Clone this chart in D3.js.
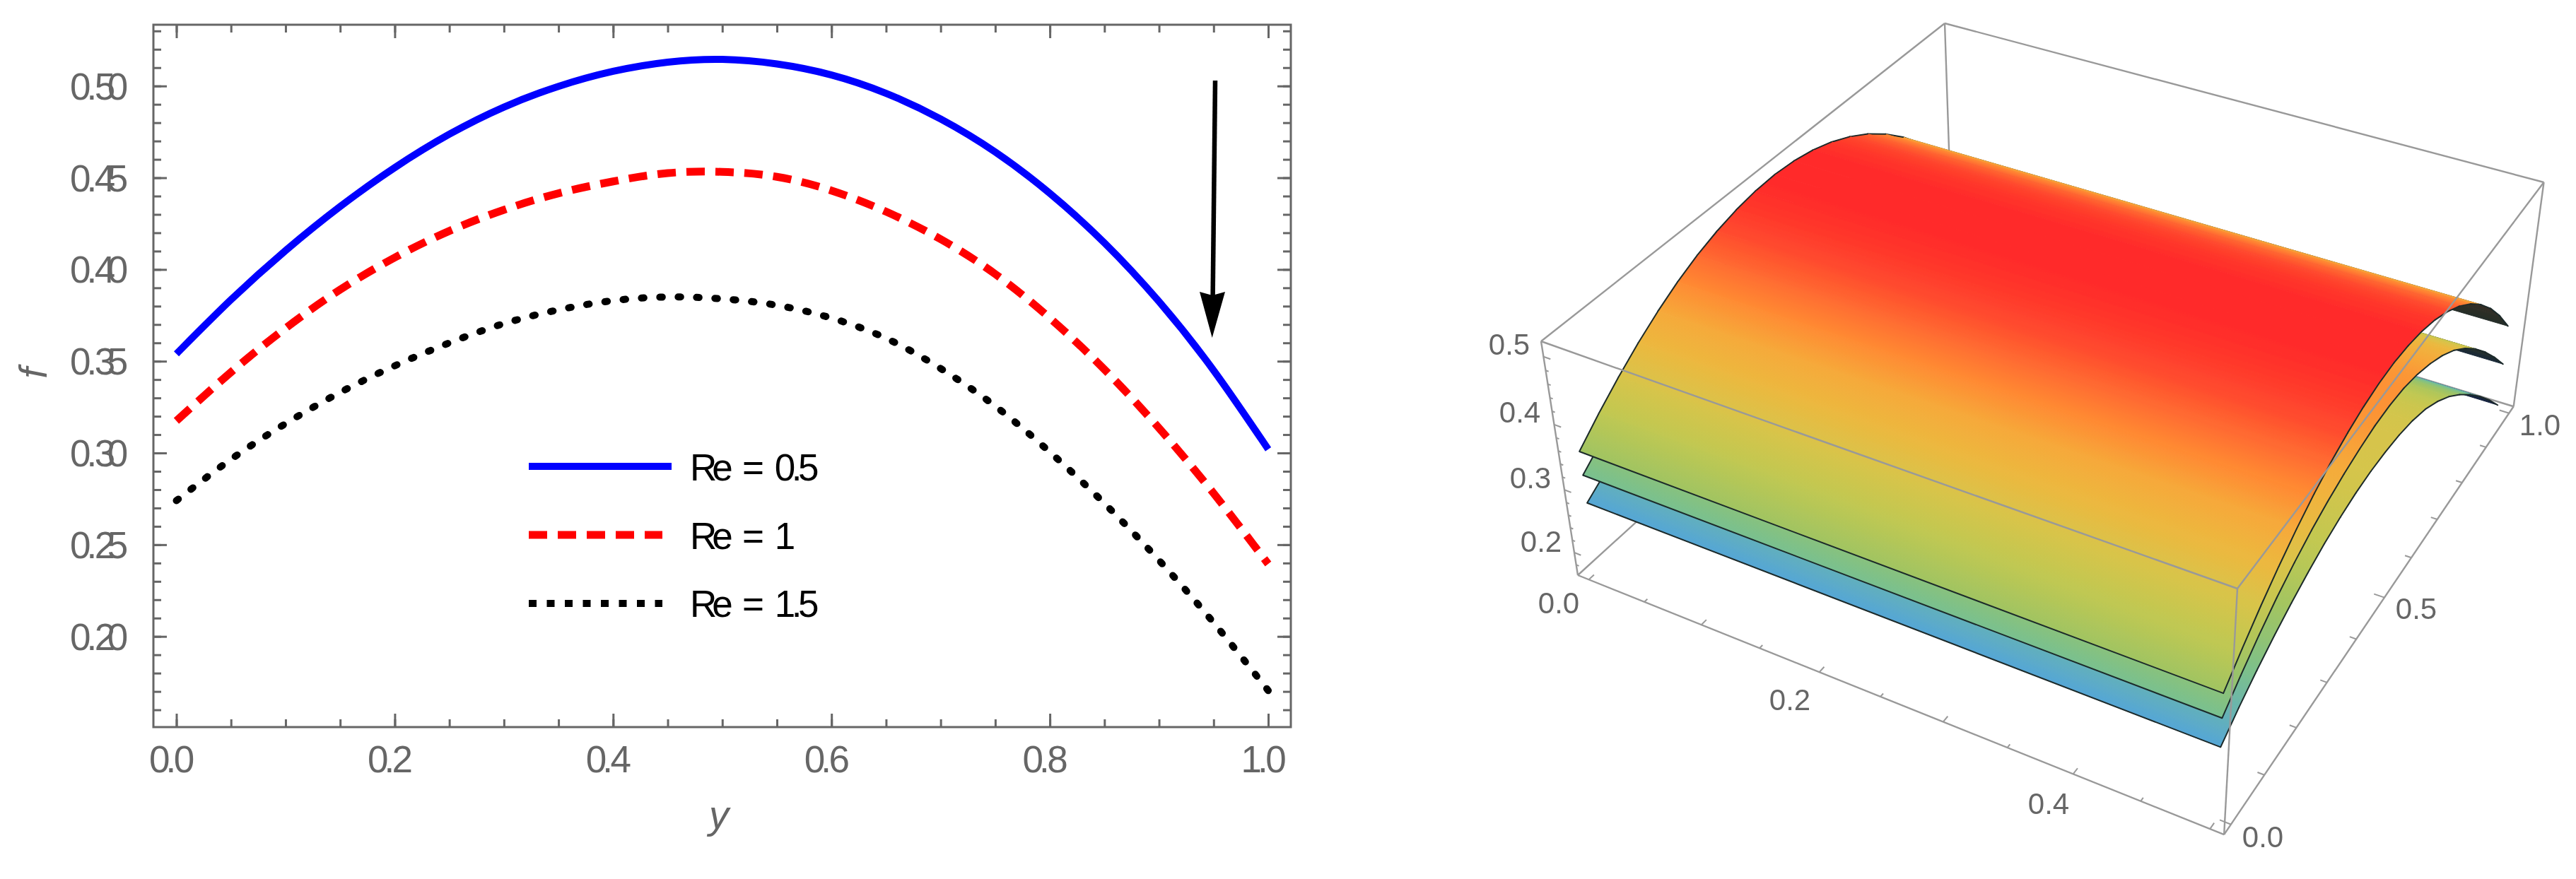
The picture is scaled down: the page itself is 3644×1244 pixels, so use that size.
<!DOCTYPE html>
<html>
<head>
<meta charset="utf-8">
<script src="https://cdnjs.cloudflare.com/ajax/libs/d3/7.8.5/d3.min.js"></script>
<style>
  html, body { margin: 0; background: #fff; }
  text { font-family: "Liberation Sans", Arial, sans-serif; }
</style>
</head>
<body>
<svg id="chart" width="3644" height="1244"></svg>
<script>
// values
var yValues = [0, .05, .1, .15, .2, .25, .3, .35, .4, .45, .5, .55, .6, .65, .7, .75, .8, .85, .9, .95, 1];
var fRe05 = [.354, .3835, .4103, .4343, .4555, .4737, .4885, .4998, .508, .513, .5145, .512, .506, .496, .482, .464, .4415, .4145, .3825, .345, .302];
var fRe1 = [.3175, .344, .368, .389, .4065, .421, .4325, .4415, .448, .4525, .4532, .4505, .443, .4315, .4165, .3975, .3735, .3455, .3135, .278, .2395];
var fRe15 = [.274, .2965, .316, .333, .3475, .36, .3705, .378, .383, .385, .384, .3805, .3735, .3625, .346, .3255, .3005, .2725, .2415, .2075, .1705];
var legendLabels = ["Re = 0.5", "Re = 1", "Re = 1.5"];
var xMajor = [0, .2, .4, .6, .8, 1];
var xMinor = d3.range(0, 1.001, .05);
var fMajor = [.2, .25, .3, .35, .4, .45, .5];
var fMinor = d3.range(.16, .531, .01);

// 3d panel
var axis3dX = [0, .05, .1, .15, .2, .25, .3, .35, .4, .45, .5];
var axis3dY = [0, .1, .2, .3, .4, .5, .6, .7, .8, .9, 1];
var axis3dZ = [.18, .2, .22, .24, .26, .28, .3, .32, .34, .36, .38, .4, .42, .44, .46, .48, .5];
// colour key is height plus a small lean along y, the source is lit off centre
var colorLean = .06;
var colorStops = [.17, .274, .3175, .354, .3865, .4163, .4433, .4675, .4887, .5065, .5208, .532, .54, .5445];
var colorValues = ["#3f6fb8", "#55a6d6", "#78c090", "#a0c462", "#c0c852", "#d8c44a", "#ecb83f", "#f6a93a", "#ff8a33", "#ff6a30", "#ff4c2e", "#ff3a2c", "#ff2e2a", "#ff2a2a"];

var svg = d3.select("#chart");
var gray = "#666";

// ---------- left plot ----------
var x = d3.scaleLinear().domain([0, 1]).range([249.5, 1794]);
var y = d3.scaleLinear().domain([.2, .5]).range([900.7, 121.7]);
var frame = { left: 217, right: 1826, top: 35, bottom: 1029 };

var left = svg.append("g");

function tickAxis(gen, tr, values, size) {
    var g = left.append("g").attr("transform", tr)
        .call(gen.tickValues(values).tickSize(size).tickFormat("").tickSizeOuter(0));
    g.select(".domain").remove();
    g.selectAll(".tick line").attr("stroke", gray).attr("stroke-width", 3);
    return g;
}
// ticks point inward on all four sides
tickAxis(d3.axisTop(x), `translate(0,${frame.bottom})`, xMinor, 11);
tickAxis(d3.axisTop(x), `translate(0,${frame.bottom})`, xMajor, 19);
tickAxis(d3.axisBottom(x), `translate(0,${frame.top})`, xMinor, 11);
tickAxis(d3.axisBottom(x), `translate(0,${frame.top})`, xMajor, 19);
tickAxis(d3.axisRight(y), `translate(${frame.left},0)`, fMinor, 11);
tickAxis(d3.axisRight(y), `translate(${frame.left},0)`, fMajor, 19);
tickAxis(d3.axisLeft(y), `translate(${frame.right},0)`, fMinor, 11);
tickAxis(d3.axisLeft(y), `translate(${frame.right},0)`, fMajor, 19);

left.append("rect")
    .attr("x", frame.left).attr("y", frame.top)
    .attr("width", frame.right - frame.left).attr("height", frame.bottom - frame.top)
    .attr("fill", "none").attr("stroke", gray).attr("stroke-width", 3);

// the source squeezes its digits unevenly, so kerning is per glyph
xMajor.forEach(function (v) {
    left.append("text").attr("x", x(v) - 38.5).attr("y", 1093)
        .attr("font-size", 53).attr("dx", "0 -6 -3.5")
        .attr("fill", gray).text(v.toFixed(1));
});
fMajor.forEach(function (v) {
    left.append("text").attr("x", 99).attr("y", y(v) + 19)
        .attr("font-size", 53).attr("dx", "0 -6 -3.5 -11.5")
        .attr("fill", gray).text(v.toFixed(2));
});
left.append("text").attr("x", 1017).attr("y", 1172)
    .attr("text-anchor", "middle").attr("font-size", 56).attr("font-style", "italic")
    .attr("fill", gray).text("y");
left.append("text").attr("transform", "translate(66,528) rotate(-90)")
    .attr("text-anchor", "middle").attr("font-size", 56).attr("font-style", "italic")
    .attr("fill", gray).text("f");

var line = d3.line()
    .x((d, i) => x(yValues[i]))
    .y(d => y(d))
    .curve(d3.curveNatural);

var series = [
    { v: fRe05, color: "#0000ff", width: 10, dash: null, cap: "butt", legendDash: null },
    { v: fRe1, color: "#ff0000", width: 11, dash: "26 15", cap: "butt", legendDash: "26 15" },
    { v: fRe15, color: "#000", width: 10, dash: "3.5 22.5", cap: "round", legendDash: "11 14.5" }
];
series.forEach(function (s) {
    left.append("path")
        .attr("d", line(s.v))
        .attr("fill", "none")
        .attr("stroke", s.color)
        .attr("stroke-width", s.width)
        .attr("stroke-linecap", s.cap)
        .attr("stroke-dasharray", s.dash);
});

// legend
var legendY = [660, 757, 854];
var legendEnd = [950, 937, 937];
var legendBase = [680, 777, 873];
series.forEach(function (s, i) {
    left.append("line")
        .attr("x1", 748).attr("x2", legendEnd[i])
        .attr("y1", legendY[i]).attr("y2", legendY[i])
        .attr("stroke", s.color).attr("stroke-width", s.width)
        .attr("stroke-dasharray", s.legendDash);
    left.append("text").attr("x", 976).attr("y", legendBase[i])
        .attr("font-size", 53).attr("dx", "0 -7 0 -1.5 0 0 -5.5 -5.5")
        .attr("fill", "#000").text(legendLabels[i]);
});

// arrow
left.append("line")
    .attr("x1", 1719).attr("y1", 114).attr("x2", 1715.5).attr("y2", 430)
    .attr("stroke", "#000").attr("stroke-width", 6.5);
left.append("path")
    .attr("d", "M1697,413L1715,418L1733,413L1714.7,478Z")
    .attr("fill", "#000");

// ---------- right plot: projected box ----------
var defs = svg.append("defs");
defs.append("filter").attr("id", "soft")
    .append("feGaussianBlur").attr("stdDeviation", .7);

var u = d3.scaleLinear().domain([-.01, .51]).range([0, 1]);
var v = d3.scaleLinear().domain([-.02, 1.02]).range([0, 1]);
var w = d3.scaleLinear().domain([.163, .522]).range([1, 0]); // w=0 top plane

// screen anchors of the box corners
var cornerA = [2180, 483];     // x min, y min, top
var cornerU = [3165, 833];     // x max, y min, top
var cornerV = [2751, 33];      // x min, y max, top
var cornerUV = [3598.5, 258];  // x max, y max, top
var cornerW = [2232, 814];     // x min, y min, bottom
var cornerUVW = [3556, 577];   // x max, y max, bottom

// projective map p = (A + Bu + Cv + Dw) / (1 + au + bv + cw)
var pa, pb, pc, B, C, D;
(function solve() {
    var A = cornerA, P1 = cornerU, P2 = cornerV, P3 = cornerUV, P4 = cornerW, P5 = cornerUVW;
    var d1 = [P1[0] - P3[0], P1[1] - P3[1]], d2 = [P2[0] - P3[0], P2[1] - P3[1]];
    var r = [P3[0] - P1[0] - P2[0] + A[0], P3[1] - P1[1] - P2[1] + A[1]];
    var det = d1[0] * d2[1] - d2[0] * d1[1];
    pa = (r[0] * d2[1] - d2[0] * r[1]) / det;
    pb = (d1[0] * r[1] - r[0] * d1[1]) / det;
    // third unknown from the far corner, least squares over both coordinates
    var e = [P4[0] - P5[0], P4[1] - P5[1]];
    var rhs = [
        P5[0] - P1[0] - P2[0] - P4[0] + 2 * A[0] - pa * (P1[0] - P5[0]) - pb * (P2[0] - P5[0]),
        P5[1] - P1[1] - P2[1] - P4[1] + 2 * A[1] - pa * (P1[1] - P5[1]) - pb * (P2[1] - P5[1])
    ];
    pc = (rhs[0] * e[0] + rhs[1] * e[1]) / (e[0] * e[0] + e[1] * e[1]);
    B = [P1[0] * (1 + pa) - A[0], P1[1] * (1 + pa) - A[1]];
    C = [P2[0] * (1 + pb) - A[0], P2[1] * (1 + pb) - A[1]];
    D = [P4[0] * (1 + pc) - A[0], P4[1] * (1 + pc) - A[1]];
})();

function projUnit(a, b, c) {
    var q = 1 + pa * a + pb * b + pc * c;
    return [
        (cornerA[0] + B[0] * a + C[0] * b + D[0] * c) / q,
        (cornerA[1] + B[1] * a + C[1] * b + D[1] * c) / q
    ];
}
function proj(xv, yv, zv) { return projUnit(u(xv), v(yv), w(zv)); }

var right = svg.append("g").attr("filter", "url(#soft)");
var boxColor = "#999";

function boxEdge(p, q, width) {
    right.append("line")
        .attr("x1", p[0]).attr("y1", p[1]).attr("x2", q[0]).attr("y2", q[1])
        .attr("stroke", boxColor).attr("stroke-width", width || 2.4);
}

// back edges go under the surfaces
boxEdge(projUnit(0, 0, 0), projUnit(0, 1, 0));
boxEdge(projUnit(0, 1, 0), projUnit(1, 1, 0));
boxEdge(projUnit(0, 1, 0), projUnit(0, 1, 1));
boxEdge(projUnit(0, 0, 1), projUnit(0, 1, 1));
boxEdge(projUnit(1, 1, 1), projUnit(0, 1, 1));

var color = d3.scaleLinear().domain(colorStops).range(colorValues);
var edgeColor = "#1c2a2a";

var gradId = 0;
function strip(layer, vals, j) {
    var x0 = 0, x1 = .5;
    var a = proj(x0, yValues[j], vals[j]), b = proj(x1, yValues[j], vals[j]);
    var c = proj(x1, yValues[j + 1], vals[j + 1]), d = proj(x0, yValues[j + 1], vals[j + 1]);
    var area = d3.polygonArea([a, b, c, d]);
    var c0 = color(vals[j] + colorLean * yValues[j]), c1 = color(vals[j + 1] + colorLean * yValues[j + 1]);
    // far side of the ridge is seen from underneath
    if (area < 0) {
        c0 = d3.interpolateRgb(c0, "#06081c")(.8);
        c1 = d3.interpolateRgb(c1, "#06081c")(.8);
    }
    // gradient runs square to the strip edge
    var mid0 = [(a[0] + b[0]) / 2, (a[1] + b[1]) / 2], mid1 = [(c[0] + d[0]) / 2, (c[1] + d[1]) / 2];
    var ex = b[0] - a[0], ey = b[1] - a[1], len = Math.hypot(ex, ey);
    var nx = -ey / len, ny = ex / len;
    var dist = (mid1[0] - mid0[0]) * nx + (mid1[1] - mid0[1]) * ny;
    var id = "g" + (gradId++);
    var grad = defs.append("linearGradient").attr("id", id)
        .attr("gradientUnits", "userSpaceOnUse")
        .attr("x1", mid0[0]).attr("y1", mid0[1])
        .attr("x2", mid0[0] + nx * dist).attr("y2", mid0[1] + ny * dist);
    grad.append("stop").attr("offset", 0).attr("stop-color", c0);
    grad.append("stop").attr("offset", 1).attr("stop-color", c1);
    layer.append("path")
        .attr("d", "M" + [a, b, c, d].join("L") + "Z")
        .attr("fill", `url(#${id})`)
        .attr("stroke", `url(#${id})`)
        .attr("stroke-width", 1);
    // mesh boundary
    [[a, d], [b, c]].forEach(function (seg) {
        layer.append("line")
            .attr("x1", seg[0][0]).attr("y1", seg[0][1]).attr("x2", seg[1][0]).attr("y2", seg[1][1])
            .attr("stroke", edgeColor).attr("stroke-width", 2).attr("stroke-linecap", "round");
    });
    if (j === 0) {
        layer.append("line")
            .attr("x1", a[0]).attr("y1", a[1]).attr("x2", b[0]).attr("y2", b[1])
            .attr("stroke", edgeColor).attr("stroke-width", 2);
    }
}

[fRe15, fRe1, fRe05].forEach(function (vals) {
    var layer = right.append("g");
    d3.range(yValues.length - 2, -1, -1).forEach(function (j) { strip(layer, vals, j); });
});

// front edges go over them
boxEdge(projUnit(0, 0, 0), projUnit(1, 0, 0));
boxEdge(projUnit(1, 0, 0), projUnit(1, 1, 0));
boxEdge(projUnit(1, 0, 0), projUnit(1, 0, 1));
boxEdge(projUnit(1, 1, 0), projUnit(1, 1, 1));
boxEdge(projUnit(0, 0, 0), projUnit(0, 0, 1));
boxEdge(projUnit(0, 0, 1), projUnit(1, 0, 1));
boxEdge(projUnit(1, 0, 1), projUnit(1, 1, 1));

// small ticks on the three labelled edges
function tick3d(p, q) { boxEdge(p, q, 2); }
axis3dX.forEach(function (t, i) {
    var major = i % 2 === 0;
    tick3d(proj(t, -.02, .163), proj(t, major ? -.008 : -.013, .163));
});
axis3dY.forEach(function (t, i) {
    var major = i % 5 === 0;
    tick3d(proj(.51, t, .163), proj(major ? .502 : .505, t, .163));
});
axis3dZ.forEach(function (t, i) {
    var major = i % 5 === 1;
    tick3d(proj(-.01, -.02, t), proj(major ? -.004 : -.0075, -.02, t));
});

// labels of the 3d axes
var zLabels = ["0.5", "0.4", "0.3", "0.2", "0.0", "0.2", "0.4", "0.0", "0.5", "1.0"];
var zLabelX = [2135, 2150, 2165, 2180, 2205, 2532, 2898, 3201, 3418, 3593];
var zLabelY = [502, 598, 691, 781, 868, 1005, 1152, 1199, 876, 616];
zLabels.forEach(function (t, i) {
    right.append("text").attr("x", zLabelX[i]).attr("y", zLabelY[i])
        .attr("text-anchor", "middle").attr("font-size", 42)
        .attr("fill", "#666").text(t);
});
</script>
</body>
</html>
